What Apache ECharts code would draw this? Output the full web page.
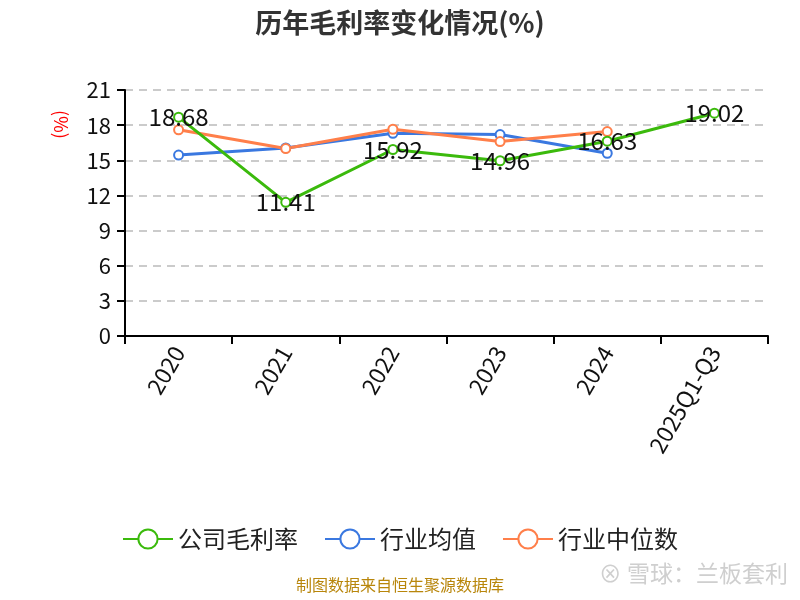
<!DOCTYPE html>
<html><head><meta charset="utf-8">
<script src="https://cdn.jsdelivr.net/npm/echarts@6/dist/echarts.min.js"></script>
<style>html,body{margin:0;padding:0;background:#fff}#c{width:800px;height:600px}</style>
</head><body><div id="c"></div>
<script>
var categories = ['2020','2021','2022','2023','2024','2025Q1-Q3'];
var companyGM = [18.68, 11.41, 15.92, 14.96, 16.63, 19.02];
var industryAvg = [15.45, 16.05, 17.3, 17.2, 15.6, null];
var industryMedian = [17.6, 16.0, 17.65, 16.6, 17.45, null];
var yTicks = [0,3,6,9,12,15,18,21];

var chart = echarts.init(document.getElementById('c'));
var font = '"Microsoft YaHei","Noto Sans CJK SC",sans-serif';
chart.setOption({
  backgroundColor:'#fff',
  textStyle:{fontFamily:font},
  title:{text:'历年毛利率变化情况(%)',left:'center',top:4,textStyle:{fontSize:27,fontWeight:'bold',color:'#333',fontFamily:font}},
  grid:{left:125,right:32,top:90,bottom:264},
  legend:{bottom:44,left:'center',itemWidth:50,itemHeight:24,itemGap:26,
    textStyle:{fontSize:24,color:'#222',fontFamily:font},
    data:['公司毛利率','行业均值','行业中位数']},
  xAxis:{type:'category',data:categories,boundaryGap:true,
    axisLine:{lineStyle:{color:'#000',width:2}},axisTick:{show:true,length:8,lineStyle:{color:'#000',width:2}},
    axisLabel:{rotate:60,fontSize:23,color:'#111',margin:12,interval:0}},
  yAxis:{type:'value',min:yTicks[0],max:yTicks[yTicks.length-1],interval:3,
    axisLine:{show:true,lineStyle:{color:'#000',width:2}},axisTick:{show:true,length:8,lineStyle:{color:'#000',width:2}},
    axisLabel:{fontSize:22,color:'#111',margin:14},
    splitLine:{lineStyle:{type:[8,6],color:'#bbb',width:1.5}}},
  graphic:[
    {type:'text',left:52,top:110,rotation:-Math.PI/2,style:{text:'(%)',fill:'#f00',fontSize:18,fontFamily:font}},
    {type:'text',left:'center',top:577,style:{text:'制图数据来自恒生聚源数据库',fill:'#b8860b',fontSize:16,fontFamily:font}},
    {type:'text',right:12,top:562,style:{text:'⊗ 雪球：兰板套利',fill:'#cfcfcf',fontSize:23,fontFamily:font}}
  ],
  series:[
    {name:'公司毛利率',type:'line',data:companyGM,symbol:'emptyCircle',symbolSize:9,
      lineStyle:{width:3,color:'#3bba0c'},itemStyle:{color:'#3bba0c',borderWidth:2},
      label:{show:true,position:'inside',fontSize:24,color:'#111',fontFamily:font},z:3},
    {name:'行业均值',type:'line',data:industryAvg,symbol:'emptyCircle',symbolSize:9,
      lineStyle:{width:3,color:'#3a78e0'},itemStyle:{color:'#3a78e0',borderWidth:2},z:2},
    {name:'行业中位数',type:'line',data:industryMedian,symbol:'emptyCircle',symbolSize:9,
      lineStyle:{width:3,color:'#ff7f4a'},itemStyle:{color:'#ff7f4a',borderWidth:2},z:2}
  ]
});
</script></body></html>
